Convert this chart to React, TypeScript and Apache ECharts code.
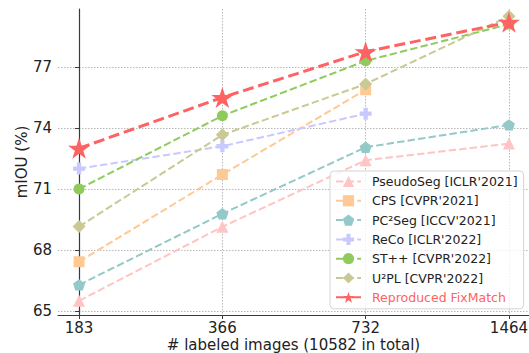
import React, { useEffect, useRef } from "react";
import * as echarts from "echarts";

const xLabels = ["183", "366", "732", "1464"];
const yTicks = [65, 68, 71, 74, 77];

const pseudoSeg = [65.5, 69.14, 72.41, 73.23];
const cps = [67.42, 71.71, 75.88];
const pc2seg = [66.28, 69.78, 73.05, 74.15];
const reco = [72.0, 73.1, 74.7];
const stpp = [71.0, 74.6, 77.3, 79.1];
const u2pl = [69.15, 73.66, 76.16, 79.49];
const fixmatch = [73.0, 75.5, 77.75, 79.2];

const seriesNames = [
  "PseudoSeg [ICLR'2021]",
  "CPS [CVPR'2021]",
  "PC²Seg [ICCV'2021]",
  "ReCo [ICLR'2022]",
  "ST++ [CVPR'2022]",
  "U²PL [CVPR'2022]",
  "Reproduced FixMatch",
];
const seriesValues = [pseudoSeg, cps, pc2seg, reco, stpp, u2pl, fixmatch];
const colors = ["#FFC4C4", "#FFC995", "#93C9C9", "#C9C9FF", "#8FCB5C", "#C9C996", "#FF6262"];

const STAR =
  "path://M0,-1 L0.2245,-0.309 L0.951,-0.309 L0.3633,0.118 L0.588,0.809 L0,0.382 L-0.588,0.809 L-0.3633,0.118 L-0.951,-0.309 L-0.2245,-0.309 Z";
const PENTAGON = "path://M0,-1 L0.951,-0.309 L0.588,0.809 L-0.588,0.809 L-0.951,-0.309 Z";
const PLUS =
  "path://M-1,-0.36 L-0.36,-0.36 L-0.36,-1 L0.36,-1 L0.36,-0.36 L1,-0.36 L1,0.36 L0.36,0.36 L0.36,1 L-0.36,1 L-0.36,0.36 L-1,0.36 Z";
const symbols = ["triangle", "rect", PENTAGON, PLUS, "circle", "diamond", STAR];
const symbolSizes = [12, 11, 12, 12, 11, 13, 22];

const FONT = "DejaVu Sans";

export default function App() {
  const ref = useRef<HTMLDivElement>(null);
  useEffect(() => {
    if (!ref.current) return;
    const chart = echarts.init(ref.current, undefined, { renderer: "svg" });
    const gridLine = { show: true, lineStyle: { color: "#b8b8b8", width: 1, type: [1.5, 1.5] as any } };
    const axisLine = { show: true, lineStyle: { color: "#3a3a3a", width: 1.2 } };
    chart.setOption({
      animation: false,
      backgroundColor: "#fff",
      grid: { left: 58, top: 9, right: 0, bottom: 38, outerBoundsMode: "none", containLabel: false },
      xAxis: {
        type: "value",
        min: -0.147,
        max: 3.14,
        axisLine,
        axisTick: { show: true, length: 4, inside: false, customValues: [0, 1, 2, 3], lineStyle: { color: "#3a3a3a" } },
        axisLabel: {
          customValues: [0, 1, 2, 3],
          formatter: (v: number) => xLabels[Math.round(v)] ?? "",
          fontFamily: FONT,
          fontSize: 15,
          lineHeight: 15,
          color: "#222",
          margin: 5,
          hideOverlap: false,
        },
        splitLine: gridLine,
        name: "# labeled images (10582 in total)",
        nameLocation: "middle",
        nameGap: 23,
        nameMoveOverlap: false,
        nameTextStyle: { fontFamily: FONT, fontSize: 15, lineHeight: 14, color: "#222" },
      },
      yAxis: {
        type: "value",
        min: 64.8,
        max: 79.85,
        axisLine,
        axisTick: { show: true, length: 4, customValues: yTicks, lineStyle: { color: "#3a3a3a" } },
        axisLabel: {
          customValues: yTicks,
          fontFamily: FONT,
          fontSize: 15,
          color: "#222",
          margin: 6,
        },
        splitLine: gridLine,
        name: "mIOU (%)",
        nameLocation: "middle",
        nameGap: 29,
        nameMoveOverlap: false,
        nameTextStyle: { fontFamily: FONT, fontSize: 15, color: "#222" },
      },
      legend: {
        orient: "vertical",
        left: 330,
        top: 171,
        itemWidth: 25,
        itemHeight: 14,
        itemGap: 6.3,
        padding: [4, 6, 5, 5],
        backgroundColor: "rgba(255,255,255,0.8)",
        borderColor: "#d4d4d4",
        borderWidth: 1,
        borderRadius: 4,
        textStyle: { fontFamily: FONT, fontSize: 12.5, color: "#222", padding: [0, 0, 0, 6] },
        data: seriesNames.map((n, i) => ({
          name: n,
          textStyle: i === 6 ? { color: colors[6] } : undefined,
        })),
      },
      series: seriesNames.map((name, i) => ({
        name,
        type: "line",
        data: seriesValues[i].map((v, j) => [j, v]),
        symbol: symbols[i],
        symbolSize: symbolSizes[i],
        symbolKeepAspect: true,
        color: colors[i],
        itemStyle: { color: colors[i] },
        lineStyle: {
          color: colors[i],
          width: i === 6 ? 3 : 2,
          type: i === 6 ? [11, 4.8] : [7.4, 3.2],
        },
        z: 2 + i,
      })),
    });
    return () => chart.dispose();
  }, []);
  return (
    <div
      ref={ref}
      style={{ position: "fixed", left: 0, top: 0, width: 529, height: 353 }}
    />
  );
}
